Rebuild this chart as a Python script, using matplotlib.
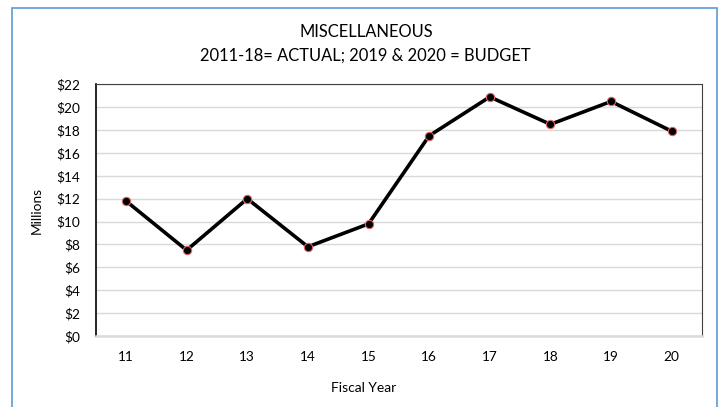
import matplotlib.pyplot as plt
from matplotlib.patches import Rectangle

# fiscal years and miscellaneous revenue ($ millions)
years = ['11', '12', '13', '14', '15', '16', '17', '18', '19', '20']
millions = [11.8, 7.5, 12.0, 7.8, 9.8, 17.5, 20.9, 18.5, 20.5, 17.9]
y_ticks = list(range(0, 23, 2))

plt.rcParams['font.family'] = ['Lato', 'DejaVu Sans']

fig = plt.figure(figsize=(7.27, 4.07), dpi=100)
W, H = 727, 407

# outer chart frame
fig.patches.append(Rectangle((12 / W, -0.05), (717 - 12) / W, 1.05 - 8 / H,
                             transform=fig.transFigure, fill=False,
                             edgecolor='#5b9bd5', linewidth=1.2))

ax = fig.add_axes([95.7 / W, 1 - 336 / H, (702 - 95.7) / W, (336 - 84.3) / H])

x = list(range(len(years)))
ax.plot(x, millions, color='black', linewidth=2.6, marker='o', markersize=6,
        markerfacecolor='black', markeredgecolor='#e06666', markeredgewidth=0.8,
        zorder=3)

ax.set_xlim(-0.5, len(years) - 0.5)
ax.set_ylim(0, 22)
ax.set_xticks(x)
ax.set_xticklabels(years)
ax.set_yticks(y_ticks)
ax.set_yticklabels([f'${v}' for v in y_ticks])
ax.tick_params(axis='both', length=0, labelsize=9.8)
ax.tick_params(axis='x', pad=11)
ax.tick_params(axis='y', pad=11)
ax.grid(axis='y', color='#d9d9d9', linewidth=1.0)
ax.set_axisbelow(True)

ax.spines['left'].set_color('black')
ax.spines['left'].set_linewidth(1.2)
ax.spines['bottom'].set_color('#d9d9d9')
ax.spines['bottom'].set_linewidth(1.8)
ax.spines['top'].set_color('#404040')
ax.spines['right'].set_color('#404040')

# axis titles
fig.text(37 / W, 1 - 210 / H, 'Millions', rotation=90, ha='center', va='center',
         fontsize=9.8)
fig.text(364 / W, 1 - 388 / H, 'Fiscal Year', ha='center', va='center',
         fontsize=10)

# chart title
fig.text(366 / W, 1 - 36.7 / H, 'MISCELLANEOUS', ha='center', va='baseline',
         fontsize=11.9)
fig.text(365 / W, 1 - 60.7 / H, '2011-18= ACTUAL; 2019 & 2020 = BUDGET',
         ha='center', va='baseline', fontsize=11.9)

fig.savefig('out.png', dpi=100)
